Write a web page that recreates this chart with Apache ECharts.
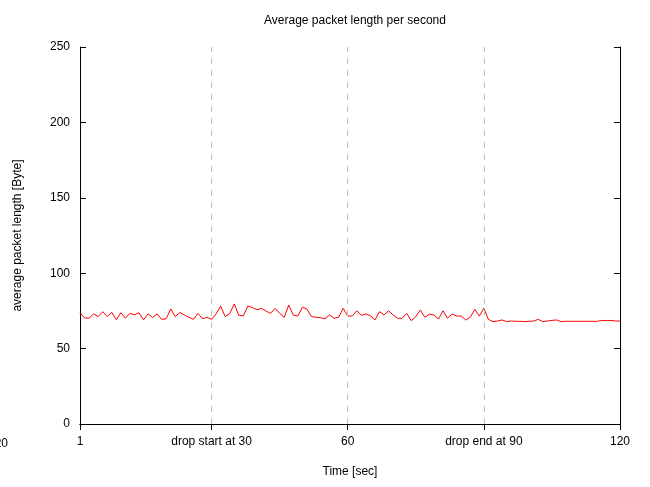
<!DOCTYPE html>
<html>
<head>
<meta charset="utf-8">
<script src="https://cdn.jsdelivr.net/npm/echarts@6/dist/echarts.min.js"></script>
<style>
  html, body { margin: 0; padding: 0; background: #fff; }
  #chart { width: 650px; height: 487px; }
</style>
</head>
<body>
<div id="chart"></div>
<script>
// Average packet length (bytes) sampled once per second, seconds 1..120
const seconds = Array.from({ length: 120 }, (_, k) => k + 1);
const avgLength = [
  73.8, 70.3, 70.2, 73.0, 71.2, 74.5, 71.2, 74.0, 69.2, 73.8,
  70.2, 73.4, 72.3, 73.8, 69.0, 73.0, 70.6, 73.0, 69.4, 69.8,
  76.3, 71.2, 74.0, 72.3, 70.8, 69.4, 73.4, 69.8, 70.8, 69.4,
  73.0, 78.2, 71.2, 73.2, 79.6, 72.0, 71.8, 78.2, 77.2, 75.8,
  76.7, 74.9, 73.4, 76.7, 73.4, 70.7, 78.9, 72.3, 71.6, 77.4,
  76.3, 71.2, 70.8, 70.5, 69.8, 72.3, 70.1, 70.8, 76.7, 71.6,
  71.6, 75.1, 72.1, 72.9, 71.8, 69.0, 74.5, 72.3, 75.1, 72.3,
  70.1, 70.1, 73.4, 68.5, 71.2, 75.6, 70.8, 72.8, 72.3, 69.6,
  75.1, 70.1, 72.9, 71.6, 71.6, 69.0, 70.8, 76.0, 71.6, 76.7,
  69.4, 67.9, 68.3, 69.0, 67.9, 68.3, 68.1, 68.1, 67.9, 68.1,
  68.3, 69.4, 67.9, 68.3, 68.7, 69.0, 67.9, 68.1, 68.1, 68.1,
  68.1, 68.1, 68.1, 68.1, 68.1, 68.7, 68.5, 68.7, 68.3, 68.3
];

// Tick positions and their labels on the time axis
const xTickValues = [1, 30, 60, 90, 120];
const xTickLabels = ['1', 'drop start at 30', '60', 'drop end at 90', '120'];
// Phase markers (dashed verticals)
const phaseMarks = [30, 60, 90];

const FONT = 'Liberation Sans, Arial, sans-serif';
const labelMap = {};
xTickValues.forEach((v, k) => { labelMap[v] = xTickLabels[k]; });

const chart = echarts.init(document.getElementById('chart'), null, { renderer: 'canvas' });

const frameLine = { show: true, lineStyle: { color: '#000', width: 1 } };
const innerTick = { show: true, inside: true, length: 6, lineStyle: { color: '#000', width: 1 } };

chart.setOption({
  animation: false,
  backgroundColor: '#fff',
  title: {
    text: 'Average packet length per second',
    left: 350, top: 10, textAlign: 'center',
    textStyle: { fontFamily: FONT, fontSize: 12, fontWeight: 'normal', color: '#000' }
  },
  grid: { left: 80, right: 30, top: 47, bottom: 63, containLabel: false },
  graphic: [{
    type: 'text', x: 8, y: 444,
    style: { text: '20', fontFamily: FONT, fontSize: 12, fill: '#000', align: 'right', verticalAlign: 'middle' }
  }],
  xAxis: [{
    type: 'value', min: 1, max: 120, position: 'bottom',
    name: 'Time [sec]', nameLocation: 'middle', nameGap: 42,
    nameTextStyle: { fontFamily: FONT, fontSize: 12, color: '#000' },
    axisLine: frameLine,
    axisTick: Object.assign({ customValues: xTickValues }, innerTick),
    axisLabel: {
      customValues: xTickValues, margin: 12, color: '#000', fontFamily: FONT, fontSize: 12,
      formatter: v => labelMap[v] || ''
    },
    splitLine: { show: false }
  }, {
    type: 'value', min: 1, max: 120, position: 'top',
    axisLine: frameLine,
    axisTick: Object.assign({ customValues: xTickValues }, innerTick),
    axisLabel: { show: false },
    splitLine: { show: false }
  }],
  yAxis: [{
    type: 'value', min: 0, max: 250, interval: 50, position: 'left',
    name: 'average packet length [Byte]', nameLocation: 'middle', nameGap: 56, nameRotate: 90,
    nameTextStyle: { fontFamily: FONT, fontSize: 12, color: '#000' },
    axisLine: frameLine,
    axisTick: innerTick,
    axisLabel: { margin: 10, color: '#000', fontFamily: FONT, fontSize: 12 },
    splitLine: { show: false }
  }, {
    type: 'value', min: 0, max: 250, interval: 50, position: 'right',
    axisLine: frameLine,
    axisTick: innerTick,
    axisLabel: { show: false },
    splitLine: { show: false }
  }],
  series: [{
    type: 'line',
    xAxisIndex: 0, yAxisIndex: 0,
    data: seconds.map((s, k) => [s, avgLength[k]]),
    showSymbol: false, symbol: 'none',
    lineStyle: { color: '#ff0000', width: 1 },
    markLine: {
      silent: true, symbol: 'none', label: { show: false },
      lineStyle: { color: '#c0c0c0', type: [6, 6], width: 1 },
      data: phaseMarks.map(v => ({ xAxis: v }))
    },
    z: 3
  }]
});
</script>
</body>
</html>
